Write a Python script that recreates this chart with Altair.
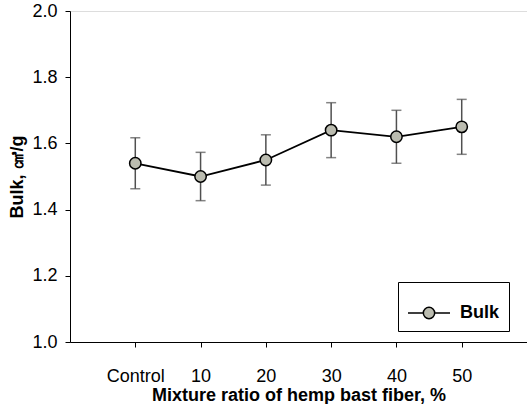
import altair as alt
import pandas as pd

categories = ["Control", "10", "20", "30", "40", "50"]
positions = [1, 2, 3, 4, 5, 6]
bulk = [1.54, 1.50, 1.55, 1.64, 1.62, 1.65]
err = [0.077, 0.073, 0.076, 0.083, 0.080, 0.083]

df = pd.DataFrame({
    "pos": positions,
    "cat": categories,
    "bulk": bulk,
    "lo": [b - e for b, e in zip(bulk, err)],
    "hi": [b + e for b, e in zip(bulk, err)],
    "series": ["Bulk"] * 6,
})

FONT = "Liberation Sans"
FS = 18
label_expr = "{1:'Control',2:'10',3:'20',4:'30',5:'40',6:'50'}[datum.value]"

x = alt.X("pos:Q", scale=alt.Scale(domain=[0, 7], nice=False, zero=False),
          axis=alt.Axis(values=positions, labelExpr=label_expr,
                        title="Mixture ratio of hemp bast fiber, %",
                        grid=False, tickSize=5, labelPadding=20, titlePadding=1,
                        domainColor="black", tickColor="black", labelColor="black",
                        labelFontSize=FS, titleFontSize=FS, labelFont=FONT, titleFont=FONT,
                        titleFontWeight="bold", titleColor="black"))
y = alt.Y("bulk:Q", scale=alt.Scale(domain=[1.0, 2.0], nice=False, zero=False),
          axis=alt.Axis(values=[1.0, 1.2, 1.4, 1.6, 1.8, 2.0], format=".1f",
                        title="Bulk, ㎤/g", grid=False, tickSize=5, labelPadding=8,
                        titlePadding=5,
                        domainColor="black", tickColor="black", labelColor="black",
                        labelFontSize=FS, titleFontSize=FS, labelFont=FONT, titleFont=FONT,
                        titleFontWeight="bold", titleColor="black"))

base = alt.Chart(df)

rules = base.mark_rule(color="#505050", strokeWidth=1.5).encode(x=x, y="lo:Q", y2="hi:Q")
caps_hi = base.mark_tick(color="#505050", orient="horizontal", size=10, thickness=1.5).encode(x="pos:Q", y="hi:Q")
caps_lo = base.mark_tick(color="#505050", orient="horizontal", size=10, thickness=1.5).encode(x="pos:Q", y="lo:Q")
line = base.mark_line(color="black", strokeWidth=1.8).encode(x="pos:Q", y=y)

legend_path = "M-1,0H-0.27M0.27,0H1M-0.27,0A0.27,0.27 0 1,0 0.27,0A0.27,0.27 0 1,0 -0.27,0Z"
points = base.mark_point(filled=True, size=130, stroke="black", strokeWidth=1.5, opacity=1).encode(
    x="pos:Q", y="bulk:Q",
    fill=alt.Fill("series:N", scale=alt.Scale(range=["#bbbcb0"]),
                  legend=alt.Legend(title=None, orient="none", legendX=328, legendY=271,
                                    strokeColor="black", fillColor="white", padding=9,
                                    symbolType=legend_path, symbolSize=1764,
                                    symbolStrokeColor="black", symbolStrokeWidth=1.5,
                                    labelFont=FONT, labelFontSize=FS, labelFontWeight="bold",
                                    labelColor="black", labelOffset=9,
                                    cornerRadius=0)),
)

chart = alt.layer(rules, caps_hi, caps_lo, line, points).properties(
    width=457, height=331,
    autosize=alt.AutoSizeParams(type="none"),
    padding={"left": 70, "top": 11, "right": 0, "bottom": 62},
).configure_view(stroke="black", strokeWidth=1.5).configure(background="white")

chart.save("out.html", embed_options={"renderer": "svg", "actions": False})
